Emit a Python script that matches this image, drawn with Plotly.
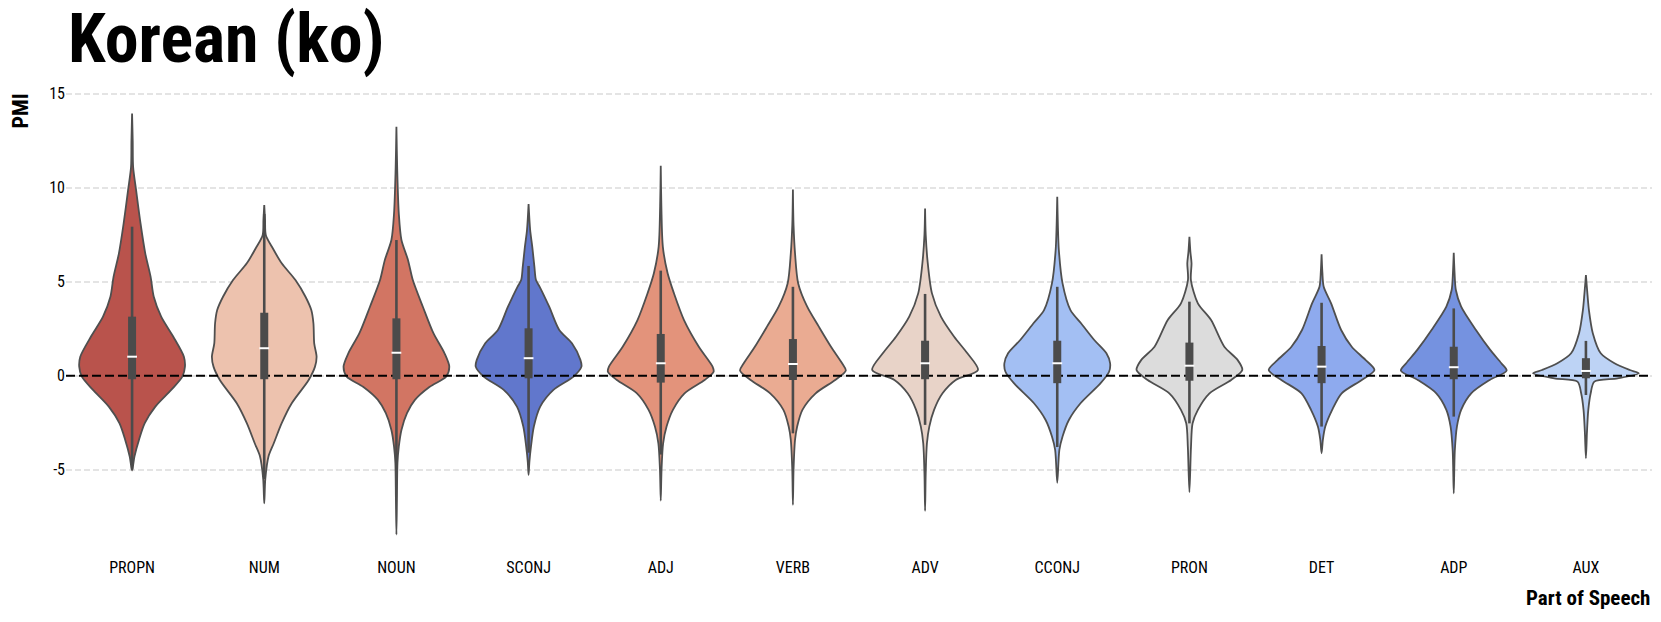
import plotly.graph_objects as go

# ---------------- data ----------------
categories = ["PROPN", "NUM", "NOUN", "SCONJ", "ADJ", "VERB", "ADV", "CCONJ", "PRON", "DET", "ADP", "AUX"]
fill_colors = ["#b9534c", "#edc2ae", "#d27563", "#6177cc", "#e3937b", "#eaab92",
               "#e8d3c8", "#a3bff3", "#dcdcdc", "#8eaaee", "#7592e0", "#bdd3f5"]

# violin outlines: PMI levels (top -> bottom) and relative density width (0..1)
PROPN_pmi = [13.96, 12.5, 11.1, 9.88, 8.1, 6.5, 5.27, 4.2, 3.14, 2.07, 1.01, 0.48, -0.05, -0.76, -1.65, -2.53, -3.42, -4.3, -5.05]
PROPN_w = [0, 0.012, 0.02, 0.076, 0.16, 0.25, 0.35, 0.41, 0.55, 0.78, 0.98, 1.0, 0.95, 0.74, 0.44, 0.24, 0.13, 0.045, 0]

NUM_pmi = [9.08, 8.3, 7.48, 6.86, 5.98, 5.09, 4.2, 3.49, 2.79, 1.72, 1.01, 0.48, -0.23, -1.47, -2.53, -3.6, -4.3, -5.5, -6.8]
NUM_w = [0, 0.015, 0.03, 0.145, 0.33, 0.59, 0.78, 0.89, 0.93, 0.945, 0.99, 0.96, 0.84, 0.52, 0.33, 0.18, 0.08, 0.02, 0]

NOUN_pmi = [13.25, 11.0, 8.64, 7.22, 6.15, 5.09, 3.67, 2.26, 1.19, 0.48, -0.05, -0.59, -1.29, -2.0, -2.89, -3.78, -4.65, -6.5, -8.46]
NOUN_w = [0, 0.015, 0.045, 0.095, 0.22, 0.31, 0.5, 0.7, 0.91, 1.0, 0.94, 0.63, 0.35, 0.2, 0.095, 0.045, 0.02, 0.01, 0]

SCONJ_pmi = [9.13, 7.75, 6.86, 5.8, 5.09, 4.73, 3.67, 2.43, 1.72, 0.84, 0.48, -0.05, -0.76, -1.65, -2.71, -3.78, -4.6, -5.28]
SCONJ_w = [0, 0.03, 0.07, 0.11, 0.14, 0.21, 0.39, 0.58, 0.82, 0.98, 1.0, 0.85, 0.47, 0.22, 0.1, 0.045, 0.015, 0]

ADJ_pmi = [11.17, 9.0, 6.86, 5.45, 4.38, 2.96, 1.54, 0.48, 0.21, -0.23, -0.94, -1.82, -2.71, -3.6, -5.0, -6.65]
ADJ_w = [0, 0.012, 0.04, 0.13, 0.25, 0.44, 0.72, 0.98, 1.0, 0.83, 0.45, 0.23, 0.11, 0.045, 0.015, 0]

VERB_pmi = [9.91, 8.0, 6.51, 4.91, 3.67, 2.61, 1.54, 0.66, 0.27, -0.23, -0.94, -1.82, -2.71, -3.42, -5.0, -6.88]
VERB_w = [0, 0.012, 0.04, 0.1, 0.27, 0.49, 0.72, 0.93, 1.0, 0.8, 0.43, 0.18, 0.08, 0.04, 0.012, 0]

ADV_pmi = [8.9, 7.5, 6.15, 4.38, 3.14, 2.07, 1.19, 0.3, -0.23, -0.94, -1.82, -2.71, -3.6, -5.2, -7.2]
ADV_w = [0, 0.012, 0.045, 0.13, 0.3, 0.55, 0.8, 1.0, 0.58, 0.33, 0.17, 0.08, 0.035, 0.012, 0]

CCONJ_pmi = [9.52, 8.0, 6.69, 4.91, 3.49, 2.79, 1.9, 1.19, 0.66, 0.21, -0.4, -1.47, -2.36, -3.24, -3.95, -5.7]
CCONJ_w = [0, 0.012, 0.03, 0.1, 0.25, 0.45, 0.7, 0.93, 1.0, 0.98, 0.82, 0.44, 0.22, 0.1, 0.04, 0]

PRON_pmi = [7.39, 6.6, 5.98, 5.09, 3.85, 2.96, 1.54, 0.84, 0.3, -0.23, -0.94, -1.82, -2.53, -3.78, -6.2]
PRON_w = [0, 0.018, 0.04, 0.028, 0.16, 0.41, 0.66, 0.91, 1.0, 0.79, 0.38, 0.16, 0.06, 0.03, 0]

DET_pmi = [6.46, 5.5, 4.73, 3.85, 2.43, 1.54, 0.84, 0.3, -0.23, -0.94, -1.82, -2.71, -3.4, -4.13]
DET_w = [0, 0.015, 0.04, 0.18, 0.37, 0.57, 0.83, 1.0, 0.76, 0.38, 0.2, 0.07, 0.025, 0]

ADP_pmi = [6.54, 5.5, 4.56, 3.67, 2.43, 1.37, 0.66, 0.27, -0.23, -0.94, -1.82, -2.71, -4.0, -6.26]
ADP_w = [0, 0.015, 0.04, 0.14, 0.42, 0.69, 0.9, 1.0, 0.68, 0.33, 0.14, 0.06, 0.02, 0]

AUX_pmi = [5.36, 4.3, 3.49, 2.26, 1.19, 0.66, 0.3, 0.13, -0.14, -0.32, -0.94, -1.82, -3.0, -4.4]
AUX_w = [0, 0.03, 0.057, 0.13, 0.28, 0.54, 0.83, 1.0, 0.6, 0.16, 0.09, 0.045, 0.02, 0]

# inner box statistics
q1 = [-0.19, -0.19, -0.19, -0.14, -0.37, -0.23, -0.19, -0.40, -0.27, -0.40, -0.19, -0.14]
median = [1.01, 1.46, 1.22, 0.93, 0.66, 0.62, 0.66, 0.66, 0.53, 0.48, 0.45, 0.25]
q3 = [3.14, 3.35, 3.05, 2.52, 2.22, 1.95, 1.86, 1.86, 1.76, 1.58, 1.54, 0.93]
whisker_low = [-5.0, -5.5, -5.0, -4.1, -4.2, -3.07, -2.62, -3.8, -2.54, -2.71, -2.18, -1.03]
whisker_high = [7.93, 8.6, 7.22, 5.84, 5.59, 4.73, 4.35, 4.73, 3.94, 3.88, 3.58, 1.85]

y_ticks = [-5, 0, 5, 10, 15]

# ---------------- figure ----------------
profiles = {
    "PROPN": (PROPN_pmi, PROPN_w), "NUM": (NUM_pmi, NUM_w), "NOUN": (NOUN_pmi, NOUN_w),
    "SCONJ": (SCONJ_pmi, SCONJ_w), "ADJ": (ADJ_pmi, ADJ_w), "VERB": (VERB_pmi, VERB_w),
    "ADV": (ADV_pmi, ADV_w), "CCONJ": (CCONJ_pmi, CCONJ_w), "PRON": (PRON_pmi, PRON_w),
    "DET": (DET_pmi, DET_w), "ADP": (ADP_pmi, ADP_w), "AUX": (AUX_pmi, AUX_w),
}

FONT = "Roboto Condensed, Liberation Sans Narrow, DejaVu Sans Condensed, Roboto, sans-serif"
HALF = 0.4
OUTLINE = "#4f4f4f"
BOXC = "#4b4b4b"

fig = go.Figure()

for i, cat in enumerate(categories):
    ys, ws = profiles[cat]
    xr = [i + HALF * w for w in reversed(ws)]
    yr = list(reversed(ys))
    xl = [i - HALF * w for w in ws]
    yl = list(ys)
    fig.add_trace(go.Scatter(
        x=xr + xl, y=yr + yl, mode="lines", fill="toself", fillcolor=fill_colors[i],
        line=dict(color=OUTLINE, width=1.8, shape="spline", smoothing=0.8),
        hoverinfo="skip", showlegend=False))

# dashed zero line
fig.add_trace(go.Scatter(x=[-0.5, len(categories) - 0.5], y=[0, 0], mode="lines",
                         line=dict(color="black", width=2, dash="9px,4px"),
                         hoverinfo="skip", showlegend=False))

for i, cat in enumerate(categories):
    fig.add_trace(go.Scatter(x=[i, i], y=[whisker_low[i], whisker_high[i]], mode="lines",
                             line=dict(color=BOXC, width=2.6), hoverinfo="skip", showlegend=False))
    fig.add_trace(go.Scatter(x=[i, i], y=[q1[i], q3[i]], mode="lines",
                             line=dict(color=BOXC, width=8), hoverinfo="skip", showlegend=False))
    fig.add_trace(go.Scatter(x=[i], y=[median[i]], mode="markers",
                             marker=dict(symbol="line-ew", size=7, line=dict(color="white", width=2)),
                             hoverinfo="skip", showlegend=False))

fig.update_layout(
    width=1661, height=622,
    margin=dict(l=66, r=9, t=92, b=66),
    plot_bgcolor="white", paper_bgcolor="white",
    font=dict(family=FONT, color="black"),
    title=dict(text="<b>Korean (ko)</b>", font=dict(family=FONT, size=68, color="black"),
               x=68 / 1661, xanchor="left", xref="container",
               y=1 - 38 / 622, yanchor="middle", yref="container"),
    xaxis=dict(range=[-0.5, len(categories) - 0.5], tickmode="array",
               tickvals=list(range(len(categories))), ticktext=categories,
               showgrid=False, zeroline=False, showline=False, ticks="",
               tickfont=dict(size=16, family=FONT, color="black")),
    yaxis=dict(range=[-9.6, 15.1], tickmode="array", tickvals=y_ticks,
               ticktext=[str(v) for v in y_ticks],
               showgrid=True, gridcolor="#e4e4e4", gridwidth=1.5, griddash="6px,3px",
               zeroline=False, showline=False, ticks="",
               tickfont=dict(size=16, family=FONT, color="black")),
    annotations=[
        dict(text="<b>PMI</b>", textangle=-90, xref="paper", yref="paper",
             x=-(66 - 20) / 1586, y=1, xanchor="center", yanchor="top", showarrow=False,
             font=dict(family=FONT, size=22, color="black")),
        dict(text="<b>Part of Speech</b>", xref="paper", yref="paper",
             x=1, y=-(598 - 556) / 464, xanchor="right", yanchor="middle", showarrow=False,
             font=dict(family=FONT, size=21, color="black")),
    ],
)

fig.write_html("out.html", config={"displayModeBar": False},
               post_script="document.body.style.margin='0';document.body.style.overflow='hidden';")
